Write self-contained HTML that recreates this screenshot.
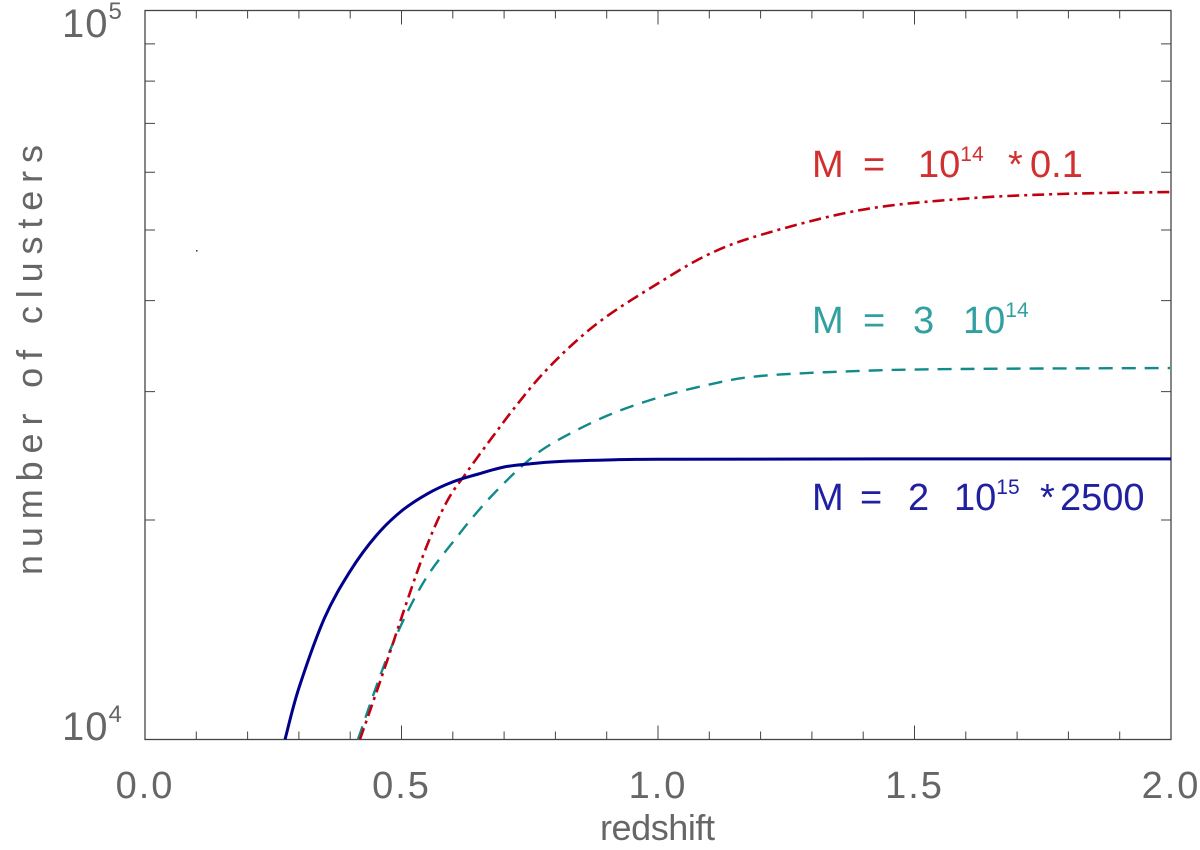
<!DOCTYPE html>
<html><head><meta charset="utf-8"><style>
html,body{margin:0;padding:0;background:#fff;}
svg{display:block;font-family:"Liberation Sans",sans-serif;}
</style></head><body>
<svg id="chart" width="1200" height="850" viewBox="0 0 1200 850">
<g id="axes"></g>
<g id="series"></g>
<g id="labels"></g>
</svg>
<script>
const xTickVals = [0.0, 0.5, 1.0, 1.5, 2.0];
const xTickLabels = ["0.0", "0.5", "1.0", "1.5", "2.0"];
const blueZ = [0.273, 0.30, 0.35, 0.40, 0.45, 0.50, 0.55, 0.60, 0.65, 0.70, 0.75, 0.80, 0.90, 1.0, 1.5, 2.0];
const blueN = [10000, 11765, 14678, 17023, 19015, 20578, 21720, 22560, 23130, 23650, 23880, 24050, 24180, 24230, 24260, 24260];
const redZ = [0.419, 0.464, 0.511, 0.550, 0.589, 0.628, 0.673, 0.717, 0.770, 0.834, 0.901, 0.998, 1.096, 1.199, 1.394, 1.589, 1.784, 1.998];
const redN = [10000, 12337, 15488, 18490, 21240, 23300, 25750, 28310, 31430, 34870, 38090, 42150, 46190, 49200, 53240, 55130, 56020, 56360];
const tealZ = [0.415, 0.477, 0.541, 0.608, 0.672, 0.744, 0.802, 0.900, 0.998, 1.096, 1.199, 1.394, 1.589, 1.998];
const tealN = [10000, 13225, 16340, 18960, 21440, 24030, 25670, 27790, 29410, 30640, 31520, 32030, 32230, 32330];

const X0=145, X1=1171, Y0=739.5, Y1=10.5;
function xs(z){return X0+(z-0)/(2-0)*(X1-X0);}
function ys(v){return Y0-(Math.log10(v)-4)*(Y0-Y1);}
const NS="http://www.w3.org/2000/svg";
function mk(tag,attrs,parent){const e=document.createElementNS(NS,tag);for(const k in attrs)e.setAttribute(k,attrs[k]);parent.appendChild(e);return e;}
const axes=document.getElementById('axes');
const ser=document.getElementById('series');
const lab=document.getElementById('labels');

const frame=mk('rect',{x:X0,y:Y1,width:X1-X0,height:Y0-Y1,fill:'none',stroke:'#444','stroke-width':1.3},axes);


for(let i=1;i<20;i++){
  const x=xs(i*0.1); const len=(i%5===0)?14:8;
  const t=mk('path',{d:`M${x},${Y0}V${Y0-len}M${x},${Y1}V${Y1+len}`,stroke:'#444','stroke-width':1},axes);
  
  
}
for(let m=2;m<=9;m++){
  const y=ys(m*10000);
  const t=mk('path',{d:`M${X0},${y}H${X0+10}M${X1},${y}H${X1-10}`,stroke:'#444','stroke-width':1},axes);
  
  
}
xTickVals.forEach((v,i)=>{
  const t=mk('text',{x:xs(v),y:798,'text-anchor':'middle','font-size':38,fill:'#666','letter-spacing':2},axes);
  t.textContent=xTickLabels[i];
  
  
});
function ylab(y,exp){
  const t=mk('text',{x:62,y:y,'font-size':40,fill:'#666','letter-spacing':1},axes);
  t.innerHTML='10<tspan dy="-18" font-size="24">'+exp+'</tspan>';
  
  
}
ylab(740,'4'); ylab(37,'5');
const xt=mk('text',{x:600,y:840,'font-size':36,fill:'#666',textLength:115,lengthAdjust:'spacing'},axes);
xt.textContent='redshift';


const yt=mk('text',{x:0,y:0,'font-size':36,fill:'#666',textLength:430,lengthAdjust:'spacing',transform:'translate(42,575) rotate(-90)'},axes);
yt.textContent='number of clusters';


const dot=mk('rect',{x:196,y:250,width:1.5,height:1.5,fill:'#333'},axes);



function line(zs,ns,color,w,dash,name){
  const P=zs.map((z,i)=>[xs(z),ys(ns[i])]);
  let d='M'+P[0][0].toFixed(1)+','+P[0][1].toFixed(1);
  for(let i=0;i<P.length-1;i++){
    const p0=P[i-1]||P[i],p1=P[i],p2=P[i+1],p3=P[i+2]||P[i+1];
    const c1=[p1[0]+(p2[0]-p0[0])/6,p1[1]+(p2[1]-p0[1])/6];
    const c2=[p2[0]-(p3[0]-p1[0])/6,p2[1]-(p3[1]-p1[1])/6];
    d+=`C${c1[0].toFixed(1)},${c1[1].toFixed(1)} ${c2[0].toFixed(1)},${c2[1].toFixed(1)} ${p2[0].toFixed(1)},${p2[1].toFixed(1)}`;
  }
  const p=mk('path',{d:d,fill:'none',stroke:color,'stroke-width':w,'stroke-linejoin':'round'},ser);
  if(dash)p.setAttribute('stroke-dasharray',dash);
  
  
}
line(tealZ,tealN,'#108a8a',2.4,'14 9','line-m3e14');
line(redZ,redN,'#c00010',2.6,'12 5 3 5','line-m1e14');
line(blueZ,blueN,'#00008b',3,null,'line-m2e15');

function label(y,color,html,name){
  const t=mk('text',{x:812,y:y,'font-size':38,fill:color},lab);
  t.innerHTML=html;
  
  
}
label(177,'#d03030','M<tspan x="863">=</tspan><tspan x="918">10</tspan><tspan dy="-16" font-size="21">14</tspan><tspan dy="16" x="1008">*</tspan><tspan x="1030">0.1</tspan>','label-m1e14');
label(333,'#30a0a0','M<tspan x="863">=</tspan><tspan x="913">3</tspan><tspan x="963">10</tspan><tspan dy="-16" font-size="21">14</tspan>','label-m3e14');
label(510,'#2020a0','M<tspan x="860">=</tspan><tspan x="908">2</tspan><tspan x="954">10</tspan><tspan dy="-16" font-size="21">15</tspan><tspan dy="16" x="1040">*</tspan><tspan x="1060">2500</tspan>','label-m2e15');
</script>
</body></html>
